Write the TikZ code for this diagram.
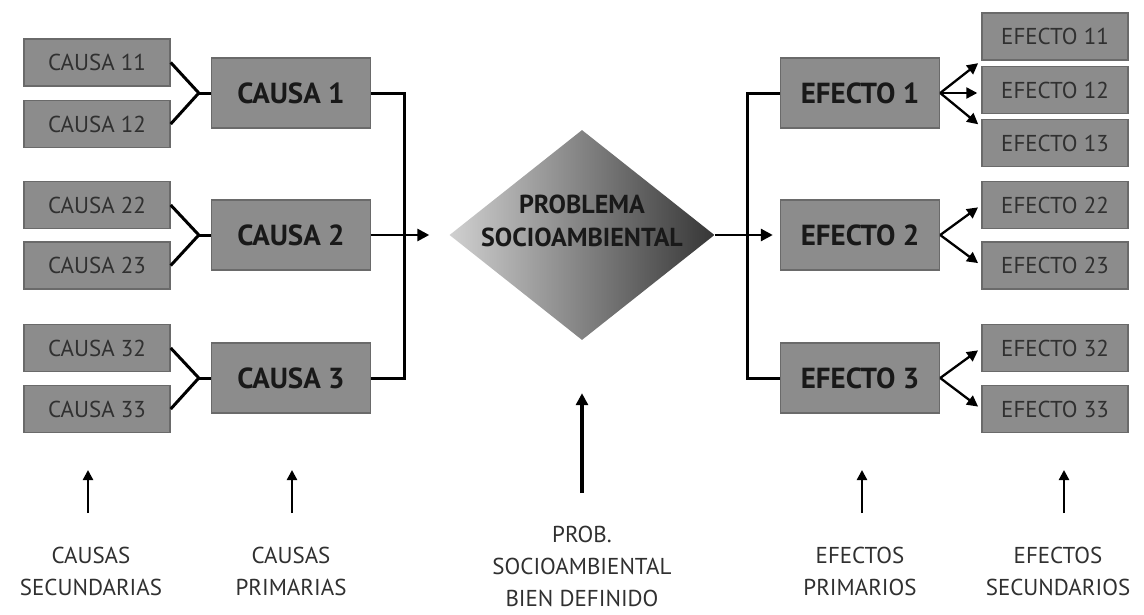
\documentclass[tikz,border=0pt]{standalone}
\usepackage{fontspec}
\setmainfont{PT Sans}
\usetikzlibrary{shapes.geometric,arrows.meta,calc}
\definecolor{boxgray}{HTML}{8C8C8C}
\definecolor{boxedge}{HTML}{6A6A6A}
\definecolor{txtgray}{HTML}{303030}
\definecolor{shadelight}{HTML}{D0D0D0}
\definecolor{shadedark}{HTML}{363636}
\begin{document}
\begin{tikzpicture}[x=1pt,y=-1pt,
    secbox/.style={rectangle,draw=boxedge,line width=1.4pt,fill=boxgray,
      minimum width=146pt,minimum height=47pt,inner sep=0pt,
      font=\fontsize{23}{23}\selectfont,text=txtgray},
    primbox/.style={rectangle,draw=boxedge,line width=1.4pt,fill=boxgray,
      minimum width=159pt,minimum height=70pt,inner sep=0pt,
      font=\bfseries\fontsize{29}{29}\selectfont,text=black!90},
    link/.style={line width=3pt},
    arr/.style={line width=2.8pt,-{Triangle[length=12pt,width=12pt]}},
    fan/.style={line width=2.3pt,-{Triangle[length=11pt,width=11pt]},shorten >=4pt},
    caption/.style={align=center,font=\fontsize{23}{32}\selectfont,text=txtgray}]
  \useasboundingbox (0,0) rectangle (1144,614);
  \pgfmathsetmacro{\causeX}{97}
  \pgfmathsetmacro{\effectX}{1055}

  % secondary boxes
  \foreach \n/\y in {11/62.5,12/124,22/205,23/265.5,32/348,33/409}
    \node[secbox] (c\n) at (\causeX,\y) {CAUSA \n};
  \foreach \n/\y in {11/36.5,12/90,13/143,22/205,23/265.5,32/348,33/409}
    \node[secbox] (e\n) at (\effectX,\y) {EFECTO \n};

  % primary boxes
  \foreach \n/\y in {1/93,2/235,3/378} {
    \node[primbox] (c\n) at (291,\y) {CAUSA \n};
    \node[primbox] (e\n) at (860,\y) {EFECTO \n};
  }

  % problem
  \node[diamond,minimum width=265pt,minimum height=210pt,inner sep=0pt,
    shape aspect=1.26,left color=shadelight,right color=shadedark] (prob) at (582,235) {};
  \node[align=center,font=\bfseries\fontsize{26}{33}\selectfont,text=black!90]
    (probtxt) at (582,221) {PROBLEMA\\SOCIOAMBIENTAL};

  % causes
  \foreach \p/\a/\b in {1/11/12,2/22/23,3/32/33} {
    \coordinate (jc\p) at ($(c\p.west)+(-12,0)$);
    \draw[link] (c\a.east) -- (jc\p) -- (c\b.east);
    \draw[link] (jc\p) -- (c\p.west);
  }
  \draw[link] (c1.east) -- ++(33,0) |- (c3.east);
  \draw[arr,shorten >=20pt] (c2.east) -- (prob.west);

  % effects
  \draw[link] (e1.west) -- ++(-32,0) |- (e3.west);
  \draw[arr,shorten >=7pt] (prob.east) -- (e2.west);
  \draw[fan] (e1.east) -- (e11.south west);
  \draw[fan] (e1.east) -- (e1.east -| e12.west);
  \draw[fan] (e1.east) -- ([yshift=-8pt]e13.north west);
  \foreach \p/\a/\b in {2/22/23,3/32/33} {
    \draw[fan] (e\p.east) -- (e\a.west);
    \draw[fan] (e\p.east) -- (e\b.west);
  }

  % captions
  \node[caption] (lcs) at (91,571) {CAUSAS\\SECUNDARIAS};
  \node[caption] (lcp) at (291,571) {CAUSAS\\PRIMARIAS};
  \node[caption] (lpb) at (582,566) {PROB.\\SOCIOAMBIENTAL\\BIEN DEFINIDO};
  \node[caption] (lep) at (860,571) {EFECTOS\\PRIMARIOS};
  \node[caption] (les) at (1058,571) {EFECTOS\\SECUNDARIOS};
  \foreach \n/\x in {cs/88,cp/292,ep/862,es/1064} {
    \coordinate (t\n) at (\x,513);
    \coordinate (h\n) at (\x,470);
    \draw[line width=2.3pt,-{Triangle[length=10pt,width=10pt]}] (t\n) -- (h\n);
  }
  \coordinate (tpb) at (582,493);
  \draw[arr,line width=3.2pt,shorten >=53pt] (tpb) -- (prob.south);
\end{tikzpicture}
\end{document}
